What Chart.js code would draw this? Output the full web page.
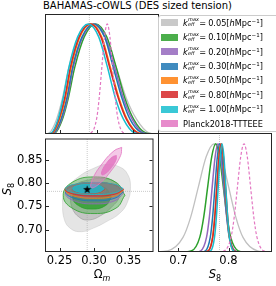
<!DOCTYPE html>
<html>
<head>
<meta charset="utf-8">
<script src="https://cdn.jsdelivr.net/npm/chart.js@4.4.0/dist/chart.umd.min.js"></script>
<style>
  html, body { margin: 0; padding: 0; background: #fff; }
  body { width: 276px; height: 286px; position: relative; overflow: hidden; font-family: "DejaVu Sans", sans-serif; color: #000; }
  canvas { position: absolute; }
  .txt { position: absolute; white-space: nowrap; }
  #title { left: 43px; top: 0px; font-size: 10px; line-height: 12px; }
  #xlabOmega { left: 45px; width: 114px; top: 268px; text-align: center; font-size: 11.5px; line-height: 12px; }
  #xlabS8 { left: 158px; width: 114px; top: 268px; text-align: center; font-size: 11.5px; line-height: 12px; }
  #ylabS8 { left: -12px; top: 182px; width: 40px; text-align: center; font-size: 11.5px; line-height: 12px; transform: rotate(-90deg); }
  .sb { font-size: 8px; position: relative; top: 3px; }
  #legend { position: absolute; left: 158px; top: 15px; width: 130px; height: 115px; border: 1px solid #ccc; border-radius: 3px; background: rgba(255,255,255,0.8); }
  .patch { position: absolute; left: 1.5px; width: 17px; height: 7px; }
  .row { position: absolute; left: 24px; height: 10px; font-size: 8.2px; line-height: 10px; white-space: nowrap; }
  .ss { display: inline-block; position: relative; width: 10.5px; height: 8px; }
  .ss span { position: absolute; left: 0.3px; font-size: 5px; line-height: 5px; font-style: italic; }
  .ss .sup { top: -0.5px; }
  .ss .sub { top: 4.8px; }
  .row sup { font-size: 5.5px; vertical-align: 3px; line-height: 0; }
  .eq { margin: 0 2px 0 1px; }
</style>
</head>
<body>
<div id="title" class="txt">BAHAMAS-cOWLS (DES sized tension)</div>
<canvas id="omegaPanel" width="114" height="120" style="left:45px;top:14px"></canvas>
<canvas id="contourPanel" width="159" height="153" style="left:0px;top:133px"></canvas>
<canvas id="s8Panel" width="118" height="153" style="left:158px;top:133px"></canvas>
<div id="legend"></div>
<div id="xlabOmega" class="txt">Ω<span class="sb"><i>m</i></span></div>
<div id="xlabS8" class="txt"><i>S</i><span class="sb">8</span></div>
<div id="ylabS8" class="txt"><i>S</i><span class="sb">8</span></div>
<script>
// ---- data ----
const kmaxValues = ['0.05', '0.10', '0.20', '0.30', '0.50', '0.80', '1.00'];
const seriesColors = ['#c0c0c0', '#2ca02c', '#9467bd', '#1f77b4', '#ff7f0e', '#d62728', '#17becf'];
const planckLabel = 'Planck2018-TTTEEE';
const planckColor = '#e377c2';

const omegaTicks = [0.25, 0.30, 0.35];
const s8Ticks2d = [0.70, 0.75, 0.80, 0.85];
const s8Ticks1d = [0.7, 0.8];

const fiducialOmega = 0.29;
const fiducialS8 = 0.782;
const truthPoint = [0.29, 0.786];

// normalised heights at which the x position of every 1D curve was read
const densityLevels = [0, 0.011, 0.135, 0.325, 0.607, 0.882, 1, 0.882, 0.607, 0.325, 0.135, 0.011, 0];

// Omega_m at those heights
const omegaGray   = [0.228, 0.235, 0.245, 0.253, 0.262, 0.276, 0.293, 0.311, 0.327, 0.341, 0.355, 0.372, 0.385];
const omegaGreen  = [0.236, 0.243, 0.253, 0.261, 0.270, 0.283, 0.2985, 0.314, 0.327, 0.339, 0.351, 0.367, 0.378];
const omegaPurple = [0.235, 0.242, 0.252, 0.260, 0.268, 0.281, 0.297, 0.312, 0.325, 0.337, 0.349, 0.364, 0.375];
const omegaBlue   = [0.234, 0.241, 0.251, 0.259, 0.267, 0.280, 0.296, 0.311, 0.323, 0.335, 0.346, 0.362, 0.372];
const omegaOrange = [0.233, 0.240, 0.249, 0.257, 0.265, 0.277, 0.2925, 0.307, 0.319, 0.331, 0.342, 0.357, 0.367];
const omegaRed    = [0.232, 0.239, 0.248, 0.256, 0.264, 0.276, 0.2915, 0.306, 0.318, 0.330, 0.341, 0.356, 0.366];
const omegaCyan   = [0.232, 0.238, 0.247, 0.254, 0.262, 0.274, 0.2885, 0.303, 0.315, 0.326, 0.337, 0.352, 0.362];
const omegaPlanck = [0.285, 0.2925, 0.300, 0.3036, 0.3073, 0.311, 0.3147, 0.3184, 0.3221, 0.3258, 0.3295, 0.337, 0.344];

// S8 at those heights
const s8Gray   = [0.647, 0.678, 0.709, 0.7245, 0.740, 0.7555, 0.771, 0.7855, 0.800, 0.8145, 0.829, 0.858, 0.885];
const s8Green  = [0.7105, 0.7265, 0.7425, 0.7505, 0.7585, 0.7665, 0.7745, 0.782, 0.7895, 0.797, 0.8045, 0.8195, 0.8345];
const s8Purple = [0.733, 0.7445, 0.756, 0.7618, 0.7675, 0.7733, 0.779, 0.7848, 0.7905, 0.7963, 0.802, 0.8135, 0.825];
const s8Blue   = [0.7445, 0.754, 0.7635, 0.7683, 0.773, 0.7778, 0.7825, 0.7873, 0.792, 0.7968, 0.8015, 0.811, 0.8205];
const s8Orange = [0.751, 0.7595, 0.768, 0.7723, 0.7765, 0.7808, 0.785, 0.7893, 0.7935, 0.7978, 0.802, 0.8105, 0.819];
const s8Red    = [0.7515, 0.760, 0.7685, 0.7728, 0.777, 0.7813, 0.7855, 0.7898, 0.794, 0.7983, 0.8025, 0.811, 0.8195];
const s8Cyan   = [0.757, 0.7645, 0.772, 0.7758, 0.7795, 0.7833, 0.787, 0.7908, 0.7945, 0.7983, 0.802, 0.8095, 0.817];
const s8Planck = [0.779, 0.792, 0.805, 0.8115, 0.818, 0.8245, 0.831, 0.8375, 0.844, 0.8505, 0.857, 0.870, 0.883];

// 2D contours, [Omega_m, S8] vertices traced round each region
const grayOuter = [[0.2541,0.765],[0.2565,0.724],[0.2657,0.7025],[0.2816,0.6955],[0.300,0.7037],[0.3184,0.7173],[0.3367,0.7343],[0.3482,0.7582],[0.3527,0.7922],[0.3482,0.8194],[0.3367,0.8343],[0.3184,0.8398],[0.300,0.8316],[0.2771,0.8127],[0.261,0.7888]];
const grayInner = [[0.2657,0.7786],[0.2679,0.748],[0.2794,0.7255],[0.2932,0.7208],[0.3091,0.7296],[0.3252,0.748],[0.3367,0.7718],[0.3321,0.799],[0.3138,0.8092],[0.2909,0.8057],[0.2726,0.7955]];
const greenOuter = [[0.3447,0.7735],[0.3316,0.8012],[0.300,0.8127],[0.2684,0.8012],[0.2553,0.7735],[0.2684,0.7458],[0.300,0.7343],[0.3316,0.7458]];
const greenInner = [[0.325,0.770],[0.3168,0.7884],[0.297,0.796],[0.2772,0.7884],[0.269,0.770],[0.2772,0.7516],[0.297,0.744],[0.3168,0.7516]];
const purpleOuter = [[0.3425,0.778],[0.3302,0.7943],[0.3005,0.801],[0.2708,0.7943],[0.2585,0.778],[0.2708,0.7617],[0.3005,0.755],[0.3302,0.7617]];
const purpleInner = [[0.317,0.781],[0.310,0.7895],[0.293,0.793],[0.276,0.7895],[0.269,0.781],[0.276,0.7725],[0.293,0.769],[0.310,0.7725]];
const blueOuter = [[0.3425,0.781],[0.3302,0.7948],[0.3005,0.8005],[0.2708,0.7948],[0.2585,0.781],[0.2708,0.7672],[0.3005,0.7615],[0.3302,0.7672]];
const blueInner = [[0.317,0.7835],[0.310,0.7906],[0.293,0.7935],[0.276,0.7906],[0.269,0.7835],[0.276,0.7764],[0.293,0.7735],[0.310,0.7764]];
const orangeOuter = [[0.3425,0.7837],[0.3302,0.7955],[0.3005,0.8004],[0.2708,0.7955],[0.2585,0.7837],[0.2708,0.7719],[0.3005,0.767],[0.3302,0.7719]];
const orangeInner = [[0.317,0.785],[0.310,0.7914],[0.293,0.794],[0.276,0.7914],[0.269,0.785],[0.276,0.7786],[0.293,0.776],[0.310,0.7786]];
const redOuter = [[0.343,0.786],[0.3305,0.7961],[0.3005,0.8003],[0.2705,0.7961],[0.258,0.786],[0.2705,0.7759],[0.3005,0.7717],[0.3305,0.7759]];
const redInner = [[0.316,0.786],[0.3091,0.792],[0.2925,0.7945],[0.2759,0.792],[0.269,0.786],[0.2759,0.780],[0.2925,0.7775],[0.3091,0.780]];
const cyanOuter = [[0.3422,0.7878],[0.330,0.7968],[0.3005,0.8005],[0.271,0.7968],[0.2588,0.7878],[0.271,0.7788],[0.3005,0.7751],[0.330,0.7788]];
const cyanInner = [[0.3147,0.7875],[0.308,0.7938],[0.2918,0.7964],[0.2756,0.7938],[0.2689,0.7875],[0.2756,0.7812],[0.2918,0.7786],[0.308,0.7812]];
const planckOuter = [[0.340,0.876],[0.3383,0.8582],[0.3246,0.8256],[0.3071,0.7974],[0.296,0.790],[0.2977,0.8078],[0.3114,0.8404],[0.3289,0.8686]];
const planckInner = [[0.3323,0.8585],[0.3319,0.8495],[0.3256,0.8338],[0.3171,0.8205],[0.3113,0.8175],[0.3117,0.8265],[0.318,0.8422],[0.3265,0.8555]];

const omegaCurves = [omegaGray, omegaGreen, omegaPurple, omegaBlue, omegaOrange, omegaRed, omegaCyan];
const s8Curves = [s8Gray, s8Green, s8Purple, s8Blue, s8Orange, s8Red, s8Cyan];
const outerContours = [grayOuter, greenOuter, purpleOuter, blueOuter, orangeOuter, redOuter, cyanOuter];
const innerContours = [grayInner, greenInner, purpleInner, blueInner, orangeInner, redInner, cyanInner];

// ---- helpers ----
const tickFont = { family: 'DejaVu Sans', size: 11.5 };

function rgba(hex, a) {
  const n = parseInt(hex.slice(1), 16);
  return `rgba(${n >> 16},${(n >> 8) & 255},${n & 255},${a})`;
}

function curvePoints(xs) {
  return xs.map((x, i) => ({ x: x, y: densityLevels[i] }));
}

function densitySets(curves, planck) {
  const sets = curves.map((xs, i) => ({
    data: curvePoints(xs),
    borderColor: seriesColors[i],
    borderWidth: i === 0 ? 1.3 : 1.5,
    cubicInterpolationMode: 'monotone'
  }));
  sets.push({ data: curvePoints(planck), borderColor: planckColor, borderWidth: 1.2, borderDash: [3, 2], cubicInterpolationMode: 'monotone' });
  return sets.reverse(); // chart.js paints index 0 last
}

function refLine(x0, y0, x1, y1) {
  return { data: [{ x: x0, y: y0 }, { x: x1, y: y1 }], borderColor: 'rgba(160,160,160,0.7)', borderWidth: 0.8, borderDash: [1, 1] };
}

function contourSet(pts, fill, edge) {
  return {
    data: pts.concat([pts[0]]).map(p => ({ x: p[0], y: p[1] })),
    fill: 'shape', backgroundColor: fill, borderColor: edge, borderWidth: 0.9, tension: 0.45
  };
}

function fixedTicks(values) {
  return s => { s.ticks = values.map(v => ({ value: v })); };
}

// frame round the plot area plus inward tick marks
const frameTicks = {
  id: 'frameTicks',
  afterDraw(chart, args, opts) {
    const { ctx, chartArea: a, scales } = chart;
    ctx.save();
    ctx.strokeStyle = '#262626';
    ctx.lineWidth = 1;
    ctx.strokeRect(a.left + 0.5, a.top + 0.5, a.right - a.left - 1, a.bottom - a.top - 1);
    ctx.beginPath();
    (opts.bottom || []).forEach(v => {
      const x = Math.round(scales.x.getPixelForValue(v)) + 0.5;
      ctx.moveTo(x, a.bottom - 1); ctx.lineTo(x, a.bottom - 4);
    });
    (opts.left || []).forEach(v => {
      const y = Math.round(scales.y.getPixelForValue(v)) + 0.5;
      ctx.moveTo(a.left + 1, y); ctx.lineTo(a.left + 4, y);
    });
    (opts.right || []).forEach(v => {
      const y = Math.round(scales.y.getPixelForValue(v)) + 0.5;
      ctx.moveTo(a.right - 1, y); ctx.lineTo(a.right - 4, y);
    });
    ctx.stroke();
    ctx.restore();
  }
};

function baseOptions(x, y, padRight, ticks) {
  return {
    responsive: false,
    animation: false,
    layout: { padding: { left: 0, right: padRight, top: 0, bottom: 0 } },
    elements: { point: { radius: 0 }, line: { fill: false } },
    datasets: { line: { clip: 0, pointRadius: 0 } },
    plugins: { legend: { display: false }, tooltip: { enabled: false }, frameTicks: ticks },
    scales: { x: x, y: y }
  };
}

function hiddenAxis(min, max) {
  return { type: 'linear', display: false, min: min, max: max };
}

function labelledXAxis(min, max, values, digits) {
  return {
    type: 'linear', min: min, max: max,
    grid: { display: false, drawTicks: false },
    border: { display: false },
    afterBuildTicks: fixedTicks(values),
    afterFit: s => { s.height = 34; s.paddingLeft = 0; s.paddingRight = 0; },
    ticks: { font: tickFont, color: '#000', padding: 2, maxRotation: 0, autoSkip: false, callback: v => v.toFixed(digits) }
  };
}

// ---- top left: Omega_m posteriors ----
const omegaSets = densitySets(omegaCurves, omegaPlanck);
omegaSets.push(refLine(fiducialOmega, 0, fiducialOmega, 1.09));
new Chart(document.getElementById('omegaPanel'), {
  type: 'line',
  data: { datasets: omegaSets },
  options: baseOptions(hiddenAxis(0.229, 0.386), hiddenAxis(0, 1.09), 0, { bottom: omegaTicks }),
  plugins: [frameTicks]
});

// ---- bottom left: Omega_m - S8 contours ----
const starCanvas = document.createElement('canvas');
starCanvas.width = 9; starCanvas.height = 9;
(function () {
  const c = starCanvas.getContext('2d');
  c.beginPath();
  for (let i = 0; i < 10; i++) {
    const r = i % 2 ? 1.8 : 4.3;
    const t = -Math.PI / 2 + i * Math.PI / 5;
    c.lineTo(4.5 + r * Math.cos(t), 4.7 + r * Math.sin(t));
  }
  c.closePath();
  c.fillStyle = '#000';
  c.fill();
})();

const contourSets = [];
contourSets.push({ data: [{ x: truthPoint[0], y: truthPoint[1] }], showLine: false, pointRadius: 4.5, pointStyle: starCanvas });
contourSets.push(contourSet(planckInner, rgba(planckColor, 0.85), rgba(planckColor, 0.9)));
contourSets.push(contourSet(planckOuter, rgba(planckColor, 0.4), rgba(planckColor, 0.9)));
for (let i = seriesColors.length - 1; i >= 0; i--) {
  const c = i === 0 ? '#a8a8a8' : seriesColors[i];
  contourSets.push(contourSet(innerContours[i], rgba(c, i === 0 ? 0.55 : 0.8), rgba(c, 0.9)));
  contourSets.push(contourSet(outerContours[i], rgba(c, i === 0 ? 0.3 : 0.35), rgba(c, i === 0 ? 0.3 : 0.9)));
}
contourSets.push(refLine(fiducialOmega, 0.652, fiducialOmega, 0.895));
contourSets.push(refLine(0.229, fiducialS8, 0.386, fiducialS8));

const contourY = {
  type: 'linear', min: 0.652, max: 0.895,
  grid: { display: false, drawTicks: false },
  border: { display: false },
  afterBuildTicks: fixedTicks(s8Ticks2d),
  afterFit: s => { s.width = 45; s.paddingTop = 0; s.paddingBottom = 0; },
  ticks: { font: tickFont, color: '#000', padding: 2.5, callback: v => v.toFixed(2) }
};
new Chart(document.getElementById('contourPanel'), {
  type: 'line',
  data: { datasets: contourSets },
  options: baseOptions(labelledXAxis(0.229, 0.386, omegaTicks, 2), contourY, 0,
    { bottom: omegaTicks, left: s8Ticks2d, right: s8Ticks2d }),
  plugins: [frameTicks]
});

// ---- bottom right: S8 posteriors ----
const s8Sets = densitySets(s8Curves, s8Planck);
s8Sets.push(refLine(fiducialS8, 0, fiducialS8, 1.1));
new Chart(document.getElementById('s8Panel'), {
  type: 'line',
  data: { datasets: s8Sets },
  options: baseOptions(labelledXAxis(0.659, 0.887, s8Ticks1d, 1), hiddenAxis(0, 1.1), 4, { bottom: s8Ticks1d }),
  plugins: [frameTicks]
});

// ---- legend ----
const legend = document.getElementById('legend');
const legendItems = kmaxValues.map((v, i) => ({ color: seriesColors[i], html:
  `<i>k</i><span class="ss"><span class="sup">max</span><span class="sub">eff</span></span><span class="eq">=</span>${v}[<i>h</i>Mpc<sup>−1</sup>]` }));
legendItems.push({ color: planckColor, html: planckLabel });
legendItems.forEach((item, i) => {
  const centre = 6.6 + i * 14.47;
  const patch = document.createElement('div');
  patch.className = 'patch';
  patch.style.top = (centre - 3.5) + 'px';
  patch.style.background = rgba(item.color, 0.85);
  legend.appendChild(patch);
  const row = document.createElement('div');
  row.className = 'row';
  row.style.top = (centre - 5) + 'px';
  row.innerHTML = item.html;
  legend.appendChild(row);
});
</script>
</body>
</html>
